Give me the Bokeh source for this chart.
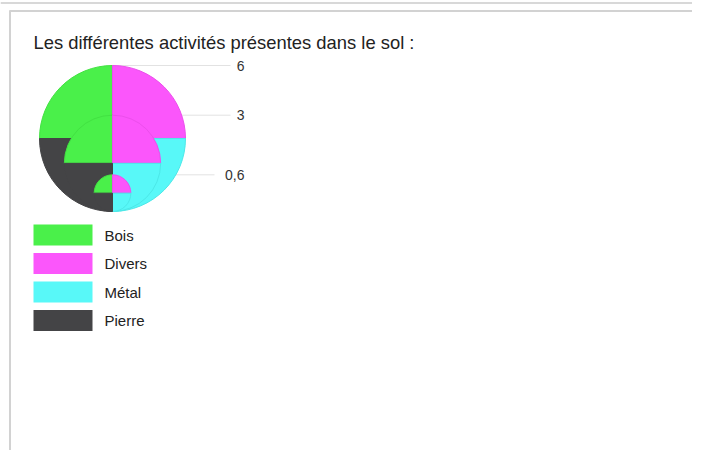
import math
from bokeh.plotting import figure
from bokeh.models import Range1d, ColumnDataSource
from bokeh.core.properties import value
from bokeh.embed import file_html
from bokeh.resources import INLINE

# ---- data ----
title = "Les différentes activités présentes dans le sol :"
categories = ["Bois", "Divers", "Métal", "Pierre"]
colors = ["#4af04a", "#fb56fb", "#58f8f8", "#444446"]
edge_colors = ["#42e242", "#ec4eec", "#4ce8e8", "#444446"]
# quadrant of each category (start angle in degrees, counter-clockwise from east)
quadrant_start = [90, 0, 270, 180]
size_values = [6, 3, 0.6]
size_labels = ["6", "3", "0,6"]

W, H = 692, 450
p = figure(width=W, height=H, output_backend="svg", toolbar_location=None,
           x_range=Range1d(0, W), y_range=Range1d(466 - H, 466),
           min_border=0, outline_line_color=None)
p.axis.visible = False
p.grid.visible = False
p.background_fill_color = "white"
p.border_fill_color = "white"

def sy(y):  # screen y -> data y
    return 466 - y

# panel frame
p.line([0, W], [sy(2.5), sy(2.5)], line_color="#d8d8d8", line_width=2)
p.line([9, W], [sy(10.5), sy(10.5)], line_color="#d2d2d2", line_width=2)
p.line([9.5, 9.5], [sy(10), sy(466)], line_color="#d2d2d2", line_width=2)

# title
p.text(x=[33], y=[sy(42)], text=[title], text_font=value("Liberation Sans"),
       text_font_size="18.4px", text_color="#222222", text_baseline="middle")

# proportional circles
cx = 112
bottom = sy(211)
rmax = 73
vmax = max(size_values)
radii = [rmax * (v / vmax) ** 0.6 for v in size_values]

# leader lines and labels
label_right = 244
for v, lab, r in zip(size_values, size_labels, radii):
    top = bottom + 2 * r
    line_end = label_right - 8 * len(lab) - 6
    p.line([cx, line_end], [top, top], line_color="#e2e2e2", line_width=1)
    p.text(x=[label_right], y=[top], text=[lab], text_font=value("Liberation Sans"),
           text_font_size="14px", text_color="#333333", text_align="right",
           text_baseline="middle")

for r in radii:
    cy = bottom + r
    src = ColumnDataSource(dict(
        x=[cx] * len(categories), y=[cy] * len(categories),
        start=[math.radians(a) for a in quadrant_start],
        end=[math.radians(a + 90) for a in quadrant_start],
        fill=colors, edge=edge_colors))
    p.wedge(x="x", y="y", radius=r, start_angle="start", end_angle="end",
            fill_color="fill", line_color="edge", line_width=1, source=src)

# legend
box_top0 = 224
pitch = 28.5
for i, (cat, col) in enumerate(zip(categories, colors)):
    top = box_top0 + i * pitch
    yc = sy(top + 10.5)
    p.rect(x=[62.5], y=[yc], width=59, height=21, fill_color=col,
           line_color=None)
    p.text(x=[104], y=[yc], text=[cat], text_font=value("Liberation Sans"),
           text_font_size="15px", text_color="#222222", text_baseline="middle")

open("out.html", "w").write(file_html(p, INLINE))
